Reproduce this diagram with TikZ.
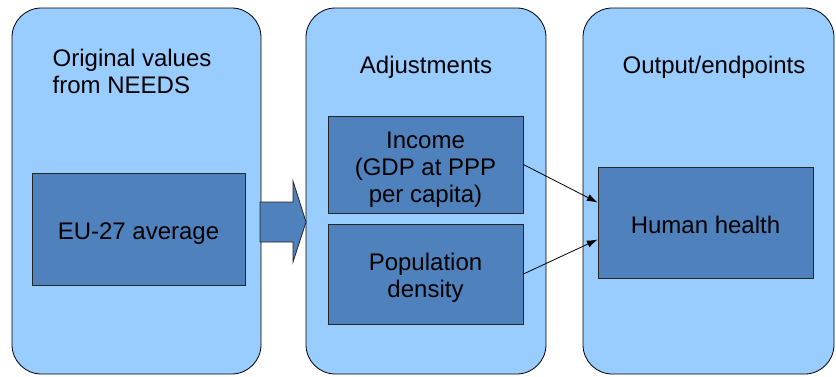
\documentclass[tikz,border=0pt]{standalone}
\usepackage{fontspec}
\setmainfont{Liberation Sans}
\usepackage{xcolor}
\usetikzlibrary{arrows.meta, positioning, calc}
\definecolor{panelblue}{HTML}{99CCFF}
\definecolor{boxblue}{HTML}{4F81BD}
\tikzset{
  panel/.style={draw=black, line width=0.6pt, fill=panelblue, rounded corners=22pt, inner sep=0pt},
  itembox/.style={draw=black!85, line width=0.6pt, fill=boxblue, inner sep=0pt, align=center},
  lbl/.style={font=\fontsize{18}{20.25}\selectfont, align=center},
  link/.style={-{Latex[length=8pt,width=5.5pt]}, line width=0.6pt}
}
\begin{document}
\begin{tikzpicture}[x=0.75pt, y=-0.75pt]
    \useasboundingbox (0,0) rectangle (836,376);

    \node[panel, minimum width=249*0.75pt, minimum height=366*0.75pt] (orig) at (136.5,191) {};
    \node[panel, minimum width=240*0.75pt, minimum height=366*0.75pt] (adj) at (426,191) {};
    \node[panel, minimum width=251*0.75pt, minimum height=366*0.75pt] (out) at (708.5,191) {};

    \node[lbl, align=left, anchor=west] (origtitle) at (48,71.5) {Original values\\from NEEDS};
    \node[lbl] (adjtitle) at (426,67) {Adjustments};
    \node[lbl] (outtitle) at (714,67) {Output/endpoints};

    \node[itembox, minimum width=213*0.75pt, minimum height=112*0.75pt] (eu) at (138.5,229) {};
    \node[lbl] at ($(eu)+(0,5)$) {EU-27 average};
    \node[itembox, minimum width=195*0.75pt, minimum height=97*0.75pt] (income) at (425.5,164.5) {};
    \node[lbl] at ($(income)+(0,5)$) {Income\\(GDP at PPP\\per capita)};
    \node[itembox, minimum width=195*0.75pt, minimum height=100*0.75pt] (popdens) at (425.5,274) {};
    \node[lbl] at ($(popdens)+(0,4)$) {Population\\density};
    \node[itembox, minimum width=215*0.75pt, minimum height=111*0.75pt] (health) at (705.5,222.5) {};
    \node[lbl] at ($(health)+(0,2)$) {Human health};

    \draw[draw=black!85, line width=0.6pt, fill=boxblue]
      (260,202) -- (293,202) -- (293,181) -- (306,222) -- (293,262) -- (293,242) -- (260,242) -- cycle;

    \draw[link] (income.east) -- ([yshift=15pt]health.west);
    \draw[link] (popdens.east) -- ([yshift=-12.75pt]health.west);
\end{tikzpicture}
\end{document}
